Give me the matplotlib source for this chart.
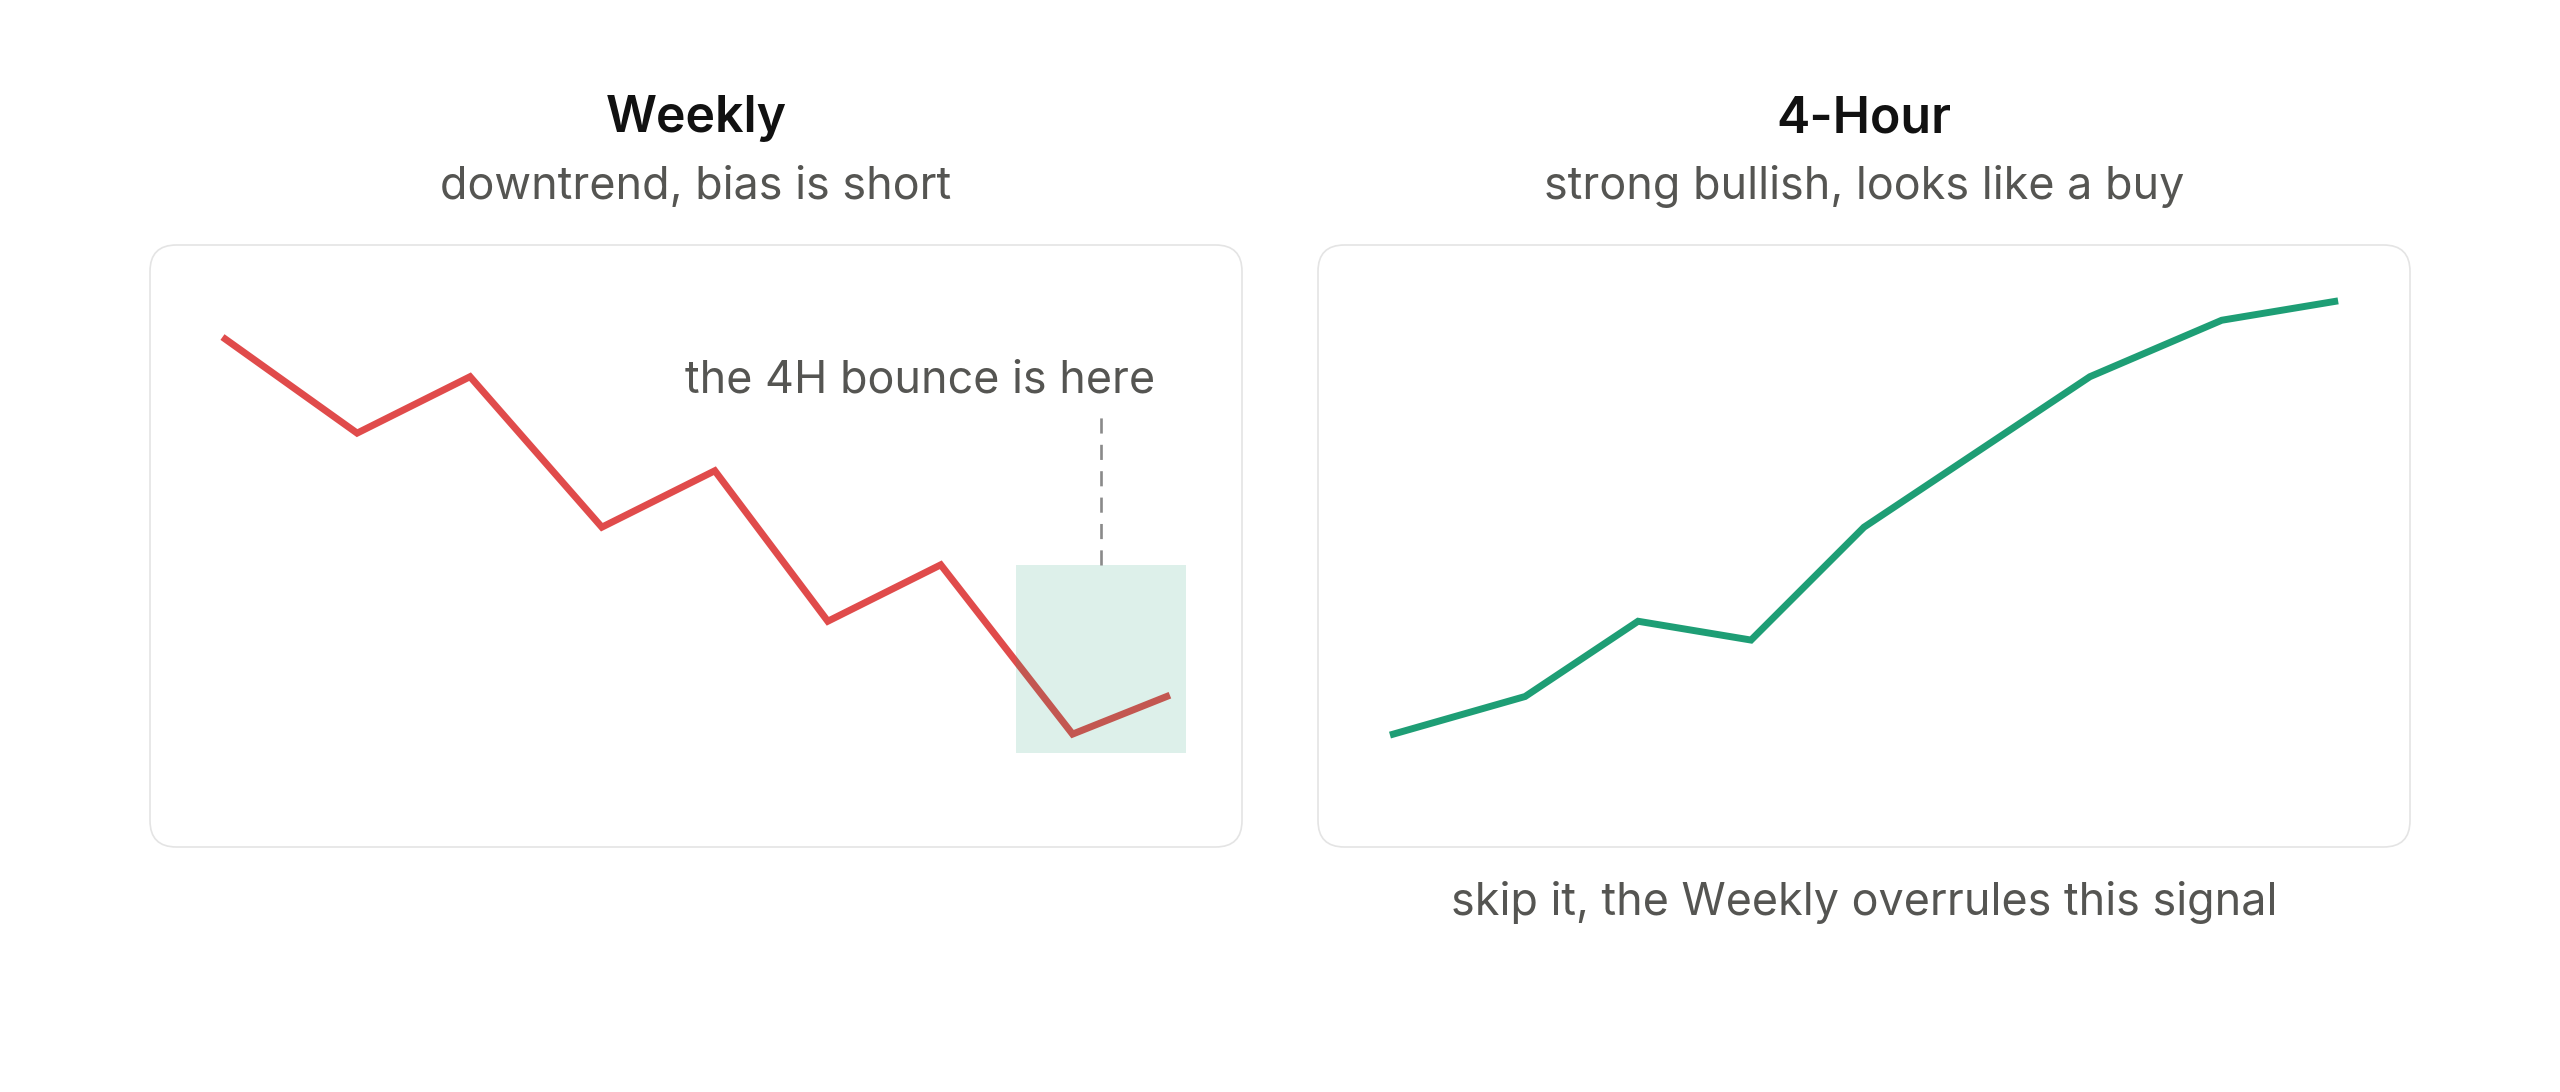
import matplotlib.pyplot as plt
from matplotlib.patches import FancyBboxPatch, Rectangle

plt.rcParams["font.family"] = ["Inter", "DejaVu Sans"]
plt.rcParams["lines.scale_dashes"] = False

# data (x in chart units, y = price level)
weekly_x = [40, 110, 170, 240, 300, 360, 420, 490, 540]
weekly_y = [270, 220, 250, 170, 200, 120, 150, 60, 80]
hour4_x = [40, 110, 170, 230, 290, 350, 410, 480, 540]
hour4_y = [60, 80, 120, 110, 170, 210, 250, 280, 290]

titles = ["Weekly", "4-Hour"]
subtitles = ["downtrend, bias is short", "strong bullish, looks like a buy"]
bounce_label = "the 4H bounce is here"
bounce_zone = (460, 550, 50, 150)  # x0, x1, y0, y1
verdict = "skip it, the Weekly overrules this signal"

RED = "#e04b4b"
GREEN = "#1e9e75"
GREY_TXT = "#555552"

W, H = 2560, 1092
fig = plt.figure(figsize=(W / 100, H / 100), dpi=100)

cards = [(150, 245), (1318, 245)]  # pixel left/top of each card
card_w, card_h = 1092, 602

axes = []
for left, top in cards:
    ax = fig.add_axes(
        [left / W, 1 - (top + card_h) / H, card_w / W, card_h / H]
    )
    ax.set_xlim(0, 580)
    ax.set_ylim(0, 320)
    ax.set_axis_off()
    card = FancyBboxPatch(
        (0, 0), 580, 320,
        boxstyle="round,pad=0,rounding_size=14",
        facecolor="white", edgecolor="#e4e4e4", linewidth=1.2,
        transform=ax.transData, clip_on=False, zorder=0,
    )
    ax.add_patch(card)
    axes.append(ax)

# weekly panel
ax = axes[0]
ax.plot(weekly_x, weekly_y, color=RED, lw=5, solid_joinstyle="miter",
        zorder=2)
x0, x1, y0, y1 = bounce_zone
ax.add_patch(Rectangle((x0, y0), x1 - x0, y1 - y0, facecolor=GREEN,
                       alpha=0.15, edgecolor="none", zorder=3))
xm = (x0 + x1) / 2
ax.plot([xm, xm], [y1, 230], color="#8a8a8a", lw=1.9,
        ls=(0, (10.9, 8.1)), zorder=3)
ax.text(409, 241.5, bounce_label, ha="center", va="baseline",
        fontsize=32.3, color=GREY_TXT)

# 4-hour panel
ax = axes[1]
ax.plot(hour4_x, hour4_y, color=GREEN, lw=5, solid_joinstyle="miter",
        zorder=2)
ax.text(290, -36, verdict, ha="center", va="baseline", fontsize=32.3,
        color=GREY_TXT, clip_on=False)

for ax, t, s in zip(axes, titles, subtitles):
    ax.text(290, 380, t, ha="center", va="baseline", fontsize=36,
            fontweight="semibold", color="#111111", clip_on=False)
    ax.text(290, 344.4, s, ha="center", va="baseline", fontsize=32.3,
            color=GREY_TXT, clip_on=False)

fig.savefig("out.png", dpi=100, facecolor="white")
